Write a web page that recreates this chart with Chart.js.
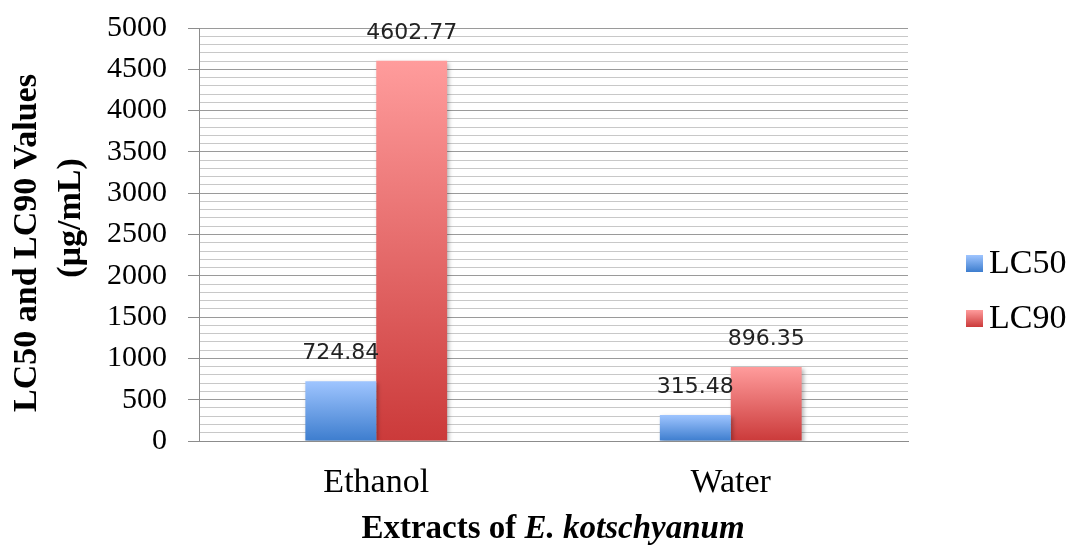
<!DOCTYPE html>
<html>
<head>
<meta charset="utf-8">
<script src="https://cdn.jsdelivr.net/npm/chart.js@4.4.1/dist/chart.umd.min.js"></script>
<style>
  html, body { margin: 0; padding: 0; background: #fff; }
  #wrap { width: 1076px; height: 545px; }
</style>
</head>
<body>
<div id="wrap"><canvas id="myChart" width="1076" height="545"></canvas></div>
<script>
// data
const categories = ['Ethanol', 'Water'];
const lc50 = [724.84, 315.48];
const lc90 = [4602.77, 896.35];
const yTitle = ['LC50 and LC90 Values', '(µg/mL)'];

const serif = '"Liberation Serif", "Times New Roman", serif';

// vertical gradient per bar, light on top, dark at the base
function barGradient(top, bottom) {
    return function (ctx) {
        const chart = ctx.chart;
        if (ctx.type !== 'data' || !chart.chartArea) return bottom;
        const y = chart.scales.y;
        const yTop = y.getPixelForValue(ctx.raw);
        const yBase = y.getPixelForValue(0);
        const g = chart.ctx.createLinearGradient(0, yTop, 0, yBase);
        g.addColorStop(0, top);
        g.addColorStop(1, bottom);
        return g;
    };
}

const colors = [
    { top: '#9fc5ff', bottom: '#3d7dce' },
    { top: '#ff9c9c', bottom: '#cb3a3a' }
];

// soft shadow behind the bars
const barShadow = {
    id: 'barShadow',
    beforeDatasetsDraw(chart) {
        const c = chart.ctx;
        c.save();
        c.shadowColor = 'rgba(0,0,0,0.28)';
        c.shadowBlur = 4;
        c.shadowOffsetX = 2;
        c.shadowOffsetY = 2;
    },
    afterDatasetsDraw(chart) {
        chart.ctx.restore();
    }
};

// value labels, titles and legend
const extras = {
    id: 'extras',
    afterDraw(chart) {
        const c = chart.ctx;

        // value labels above bars
        c.save();
        c.font = '22px "DejaVu Sans", Verdana, sans-serif';
        c.fillStyle = '#222';
        c.textAlign = 'center';
        c.textBaseline = 'middle';
        chart.data.datasets.forEach((ds, i) => {
            chart.getDatasetMeta(i).data.forEach((bar, j) => {
                c.fillText(ds.data[j].toFixed(2), bar.x, bar.y - 28);
            });
        });
        c.restore();

        // y axis title (two lines, rotated)
        c.save();
        c.font = 'bold 34px ' + serif;
        c.fillStyle = '#000';
        c.textAlign = 'center';
        c.textBaseline = 'alphabetic';
        c.translate(36, 243);
        c.rotate(-Math.PI / 2);
        c.fillText(yTitle[0], 0, 0);
        c.restore();
        c.save();
        c.font = 'bold 34px ' + serif;
        c.fillStyle = '#000';
        c.textAlign = 'center';
        c.textBaseline = 'alphabetic';
        c.translate(80, 218);
        c.rotate(-Math.PI / 2);
        c.fillText(yTitle[1], 0, 0);
        c.restore();

        // x axis title, with the species name in italics
        c.save();
        c.fillStyle = '#000';
        c.textBaseline = 'alphabetic';
        const partA = 'Extracts of ';
        const partB = 'E. kotschyanum';
        const fA = 'bold 33px ' + serif;
        const fB = 'italic bold 33px ' + serif;
        c.font = fA;
        const wA = c.measureText(partA).width;
        c.font = fB;
        const wB = c.measureText(partB).width;
        let x = 553 - (wA + wB) / 2;
        c.font = fA;
        c.textAlign = 'left';
        c.fillText(partA, x, 538);
        c.font = fB;
        c.fillText(partB, x + wA, 538);
        c.restore();

        // legend on the right
        c.save();
        const rows = [263, 318];
        chart.data.datasets.forEach((ds, i) => {
            const cy = rows[i];
            const g = c.createLinearGradient(0, cy - 8, 0, cy + 9);
            g.addColorStop(0, colors[i].top);
            g.addColorStop(1, colors[i].bottom);
            c.fillStyle = g;
            c.fillRect(966, cy - 8, 17, 17);
            c.fillStyle = '#000';
            c.font = '34px ' + serif;
            c.textAlign = 'left';
            c.textBaseline = 'middle';
            c.fillText(ds.label, 989, cy + 1);
        });
        c.restore();
    }
};

new Chart(document.getElementById('myChart').getContext('2d'), {
    type: 'bar',
    data: {
        labels: categories,
        datasets: [{
            label: 'LC50',
            data: lc50,
            backgroundColor: barGradient(colors[0].top, colors[0].bottom),
            borderWidth: 0
        }, {
            label: 'LC90',
            data: lc90,
            backgroundColor: barGradient(colors[1].top, colors[1].bottom),
            borderWidth: 0
        }]
    },
    options: {
        responsive: false,
        animation: false,
        events: [],
        layout: { padding: { left: 0, top: 28, right: 168, bottom: 0 } },
        datasets: {
            bar: { barPercentage: 1, categoryPercentage: 0.4 }
        },
        plugins: {
            legend: { display: false },
            tooltip: { enabled: false }
        },
        scales: {
            x: {
                grid: { display: false, drawTicks: false },
                border: { display: true, color: '#8c8c8c', width: 1 },
                ticks: {
                    color: '#000',
                    font: { family: serif, size: 34 },
                    padding: 22
                },
                afterFit(scale) { scale.height = 104; }
            },
            y: {
                min: 0,
                max: 5000,
                border: { display: true, color: '#8c8c8c', width: 1 },
                grid: {
                    color: (ctx) => (ctx.tick && ctx.tick.value % 500 === 0) ? '#9a9a9a' : '#c8c8c8',
                    tickColor: (ctx) => (ctx.tick && ctx.tick.value % 500 === 0) ? '#8c8c8c' : 'rgba(0,0,0,0)',
                    tickLength: 11,
                    lineWidth: 1
                },
                ticks: {
                    stepSize: 100,
                    maxTicksLimit: 60,
                    autoSkip: false,
                    color: '#000',
                    font: { family: serif, size: 30 },
                    padding: 21,
                    callback: (v) => (v % 500 === 0 ? String(v) : '')
                },
                afterFit(scale) {
                    scale.width = 199;
                    scale.paddingTop = 0;
                    scale.paddingBottom = 0;
                }
            }
        }
    },
    plugins: [barShadow, extras]
});
</script>
</body>
</html>
